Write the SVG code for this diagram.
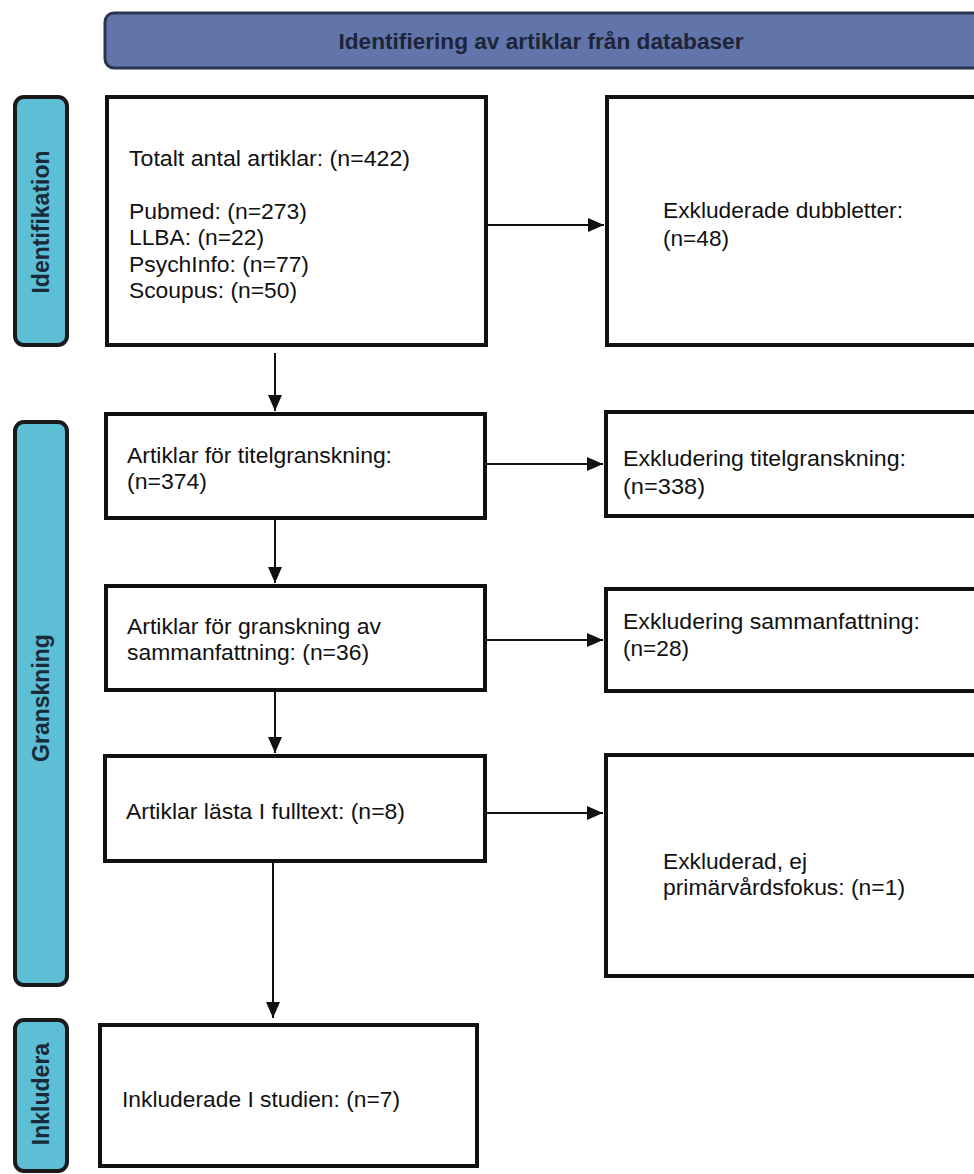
<svg xmlns="http://www.w3.org/2000/svg" width="974" height="1174" viewBox="0 0 974 1174">
<defs>
<style>
.box{fill:#fff;stroke:#111;stroke-width:4}
.phase{fill:#5cbfd6;stroke:#1a1a1a;stroke-width:4}
.hdr{fill:#6175ab;stroke:#2b3550;stroke-width:3}
.t{font-family:"Liberation Sans",Arial,sans-serif;font-size:22px;fill:#111}
.pt{font-family:"Liberation Sans",Arial,sans-serif;font-size:23px;font-weight:bold;fill:#1b2a3a}
.ht{font-family:"Liberation Sans",Arial,sans-serif;font-size:22px;font-weight:bold;fill:#1d2438}
.c{stroke:#111;stroke-width:2;fill:none}
</style>
<marker id="a" viewBox="0 0 16 14" refX="16" refY="7" markerWidth="16" markerHeight="14" markerUnits="userSpaceOnUse" orient="auto">
<path d="M0,0 L16,7 L0,14 z" fill="#111"/>
</marker>
</defs>
<rect width="974" height="1174" fill="#fff"/>

<g id="header">
<rect class="hdr" x="105" y="13" width="880" height="55" rx="9"/>
<text class="ht" x="541" y="49" text-anchor="middle" textLength="405" lengthAdjust="spacingAndGlyphs">Identifiering av artiklar från databaser</text>
</g>

<g id="phase-identifikation">
<rect class="phase" x="15" y="97" width="52" height="248" rx="9"/>
<text class="pt" x="49" y="222" text-anchor="middle" transform="rotate(-90 49 222)">Identifikation</text>
</g>
<g id="phase-granskning">
<rect class="phase" x="15" y="422" width="52" height="563" rx="9"/>
<text class="pt" x="49" y="698" text-anchor="middle" transform="rotate(-90 49 698)">Granskning</text>
</g>
<g id="phase-inkludera">
<rect class="phase" x="15" y="1020" width="52" height="151" rx="9"/>
<text class="pt" x="49" y="1094" text-anchor="middle" transform="rotate(-90 49 1094)">Inkludera</text>
</g>

<g id="n-total">
<rect class="box" x="107" y="97" width="379" height="248"/>
<text class="t" x="129" y="166" textLength="281" lengthAdjust="spacingAndGlyphs">Totalt antal artiklar: (n=422)</text>
<text class="t" x="129" y="219" textLength="178" lengthAdjust="spacingAndGlyphs">Pubmed: (n=273)</text>
<text class="t" x="129" y="245" textLength="135" lengthAdjust="spacingAndGlyphs">LLBA: (n=22)</text>
<text class="t" x="129" y="272" textLength="180" lengthAdjust="spacingAndGlyphs">PsychInfo: (n=77)</text>
<text class="t" x="129" y="298" textLength="168" lengthAdjust="spacingAndGlyphs">Scoupus: (n=50)</text>
</g>
<g id="n-dubbletter">
<rect class="box" x="607" y="97" width="380" height="248"/>
<text class="t" x="663" y="218" textLength="240" lengthAdjust="spacingAndGlyphs">Exkluderade dubbletter:</text>
<text class="t" x="663" y="246" textLength="66" lengthAdjust="spacingAndGlyphs">(n=48)</text>
</g>
<g id="n-titel">
<rect class="box" x="106" y="414" width="379" height="104"/>
<text class="t" x="127" y="463" textLength="265" lengthAdjust="spacingAndGlyphs">Artiklar för titelgranskning:</text>
<text class="t" x="127" y="489" textLength="80" lengthAdjust="spacingAndGlyphs">(n=374)</text>
</g>
<g id="n-excl-titel">
<rect class="box" x="606" y="412" width="380" height="104"/>
<text class="t" x="623" y="466" textLength="283" lengthAdjust="spacingAndGlyphs">Exkludering titelgranskning:</text>
<text class="t" x="623" y="494" textLength="82" lengthAdjust="spacingAndGlyphs">(n=338)</text>
</g>
<g id="n-sammanfattning">
<rect class="box" x="106" y="586" width="379" height="104"/>
<text class="t" x="127" y="634" textLength="254" lengthAdjust="spacingAndGlyphs">Artiklar för granskning av</text>
<text class="t" x="127" y="660" textLength="242" lengthAdjust="spacingAndGlyphs">sammanfattning: (n=36)</text>
</g>
<g id="n-excl-sammanfattning">
<rect class="box" x="606" y="589" width="380" height="102"/>
<text class="t" x="623" y="629" textLength="297" lengthAdjust="spacingAndGlyphs">Exkludering sammanfattning:</text>
<text class="t" x="623" y="656" textLength="66" lengthAdjust="spacingAndGlyphs">(n=28)</text>
</g>
<g id="n-fulltext">
<rect class="box" x="105" y="756" width="380" height="105"/>
<text class="t" x="126" y="819" textLength="279" lengthAdjust="spacingAndGlyphs">Artiklar lästa I fulltext: (n=8)</text>
</g>
<g id="n-excl-fokus">
<rect class="box" x="606" y="755" width="380" height="221"/>
<text class="t" x="663" y="869" textLength="144" lengthAdjust="spacingAndGlyphs">Exkluderad, ej</text>
<text class="t" x="663" y="895" textLength="242" lengthAdjust="spacingAndGlyphs">primärvårdsfokus: (n=1)</text>
</g>
<g id="n-inkluderade">
<rect class="box" x="100" y="1025" width="377" height="141"/>
<text class="t" x="122" y="1107" textLength="278" lengthAdjust="spacingAndGlyphs">Inkluderade I studien: (n=7)</text>
</g>

<g id="connectors">
<line class="c" x1="488" y1="225" x2="604" y2="225" marker-end="url(#a)"/>
<line class="c" x1="487" y1="464" x2="603" y2="464" marker-end="url(#a)"/>
<line class="c" x1="487" y1="640" x2="603" y2="640" marker-end="url(#a)"/>
<line class="c" x1="487" y1="813" x2="603" y2="813" marker-end="url(#a)"/>
<line class="c" x1="275" y1="353" x2="275" y2="411" marker-end="url(#a)"/>
<line class="c" x1="275" y1="520" x2="275" y2="583" marker-end="url(#a)"/>
<line class="c" x1="275" y1="692" x2="275" y2="753" marker-end="url(#a)"/>
<line class="c" x1="273" y1="863" x2="273" y2="1018" marker-end="url(#a)"/>
</g>
</svg>
